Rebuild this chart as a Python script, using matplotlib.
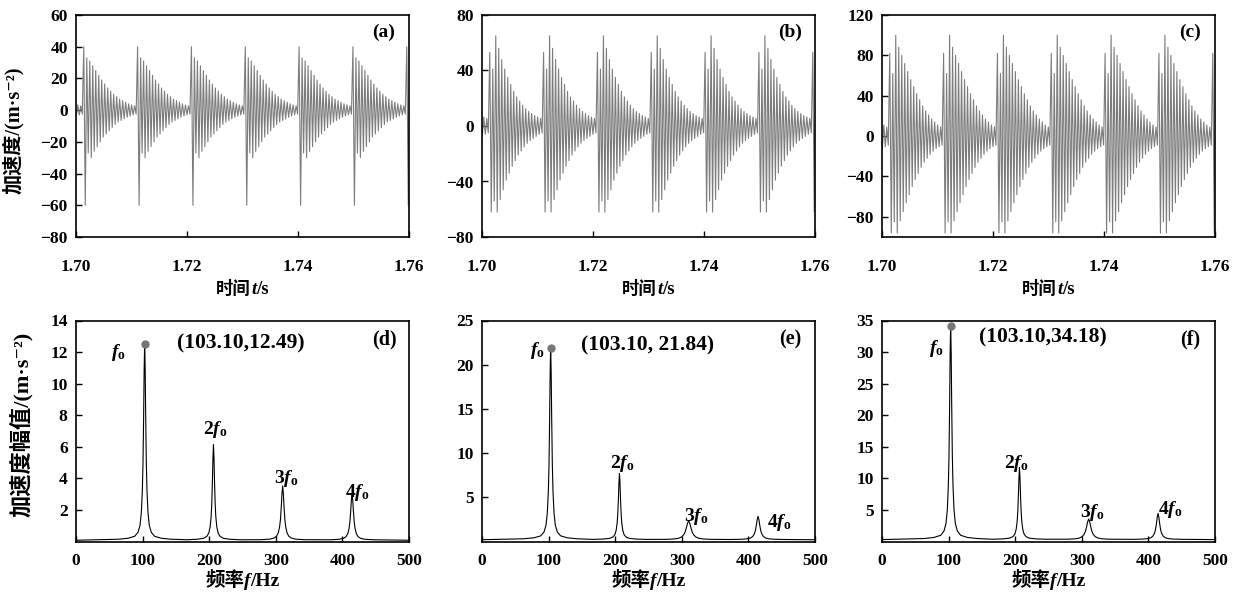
import numpy as np
import matplotlib
matplotlib.use("Agg")
import matplotlib.pyplot as plt
from matplotlib.font_manager import FontProperties
from matplotlib.offsetbox import TextArea, HPacker, AnchoredOffsetbox

plt.rcParams['mathtext.fontset'] = 'custom'
plt.rcParams['mathtext.rm'] = 'Liberation Serif:bold'
plt.rcParams['mathtext.it'] = 'Liberation Serif:italic:bold'
plt.rcParams['mathtext.bf'] = 'Liberation Serif:bold'
plt.rcParams['axes.unicode_minus'] = True

SERIF = ['Liberation Serif', 'DejaVu Serif', 'Noto Sans CJK SC']
CJK = 'Noto Sans CJK SC'

# ---------------- time-domain data ----------------
# impact onsets (s) and the alternating peak values of one ringing burst
onsets = [1.6917, 1.7014, 1.7111, 1.7208, 1.7305, 1.7402, 1.7499, 1.7596]
burst_period = 0.0097

pos_a = [40, 33, 31, 28, 25, 22, 19, 16.5, 14, 12, 10, 8.5, 7, 6, 5, 4, 3.3, 2.7]
neg_a = [-60, -27, -30, -26, -23, -20, -17, -15, -13, -11, -9, -7.5, -6.5, -5.5, -4.5, -3.7, -3, -2.5]

pos_b = [53, 41, 65, 56, 48, 41, 35, 30, 25, 21, 18, 15, 12.5, 10.5, 9, 7.5, 6.5, 5.5]
neg_b = [-62, -54, -62, -53, -46, -39, -34, -29, -25, -21, -18, -15, -12.5, -10.5, -9, -7.5, -6, -5]

pos_c = [82, 62, 100, 88, 80, 72, 64, 56, 49, 42, 36, 30, 25, 21, 17, 14, 11, 9]
neg_c = [-96, -85, -96, -84, -75, -66, -58, -50, -43, -37, -31, -26, -22, -18, -15, -12.5, -10.5, -9]

time_ticks = [1.70, 1.72, 1.74, 1.76]
yticks_a = [60, 40, 20, 0, -20, -40, -60, -80]
yticks_b = [80, 40, 0, -40, -80]
yticks_c = [120, 80, 40, 0, -40, -80]

# ---------------- spectrum data ----------------
harm_freq = [103.1, 206.4, 310.3, 414.5]
amp_d = [12.49, 6.05, 3.44, 2.95]
amp_e = [21.84, 7.5, 2.15, 2.65]
amp_f = [34.18, 11.4, 3.25, 4.15]
width_d = [1.0, 1.0, 1.3, 1.3]
width_e = [1.0, 1.0, 2.2, 1.6]
width_f = [1.0, 1.0, 2.0, 1.5]
floor_d, floor_e, floor_f = 0.08, 0.2, 0.3

# resonance line shape: offset from the peak (Hz) and relative amplitude
shape_off = [-50, -40, -25, -15, -10, -7, -5, -3.5, -2.5, -1.5, -0.8, 0,
             0.8, 1.5, 2.5, 3.5, 5, 7, 10, 15, 25, 40, 50]
shape_rel = [0.004, 0.005, 0.01, 0.02, 0.04, 0.075, 0.14, 0.25, 0.39, 0.64, 0.86, 1.0,
             0.86, 0.64, 0.39, 0.25, 0.14, 0.075, 0.04, 0.02, 0.01, 0.005, 0.004]

freq_ticks = [0, 100, 200, 300, 400, 500]
yticks_d = [2, 4, 6, 8, 10, 12, 14]
yticks_e = [5, 10, 15, 20, 25]
yticks_f = [5, 10, 15, 20, 25, 30, 35]

LINE_GREY = '#7c7c7c'

fig = plt.figure(figsize=(12.36, 5.99), dpi=100)
W, H = 1236, 599
lefts = [76, 482, 882]
aw = 333


def make_ax(left, top, bottom):
    return fig.add_axes([left / W, (H - bottom) / H, aw / W, (bottom - top) / H])


def style(ax, pad):
    for s in ax.spines.values():
        s.set_linewidth(1.2)
    ax.tick_params(direction='in', length=4.5, width=1.0, top=False, right=False,
                   labelsize=12.5)
    ax.tick_params(axis='x', pad=pad)
    ax.tick_params(axis='y', pad=6)
    for lab in ax.get_xticklabels() + ax.get_yticklabels():
        lab.set_fontfamily(SERIF)
        lab.set_fontweight('bold')


def mixed_xlabel(ax, parts, y):
    boxes = []
    for txt, fam, style_, size in parts:
        fp = FontProperties(family=fam, style=style_, weight='bold', size=size)
        boxes.append(TextArea(txt, textprops=dict(fontproperties=fp, color='black')))
    pack = HPacker(children=boxes, align='baseline', pad=0, sep=0)
    box = AnchoredOffsetbox(loc='upper center', child=pack, pad=0, borderpad=0,
                            frameon=False, bbox_to_anchor=(0.5, y),
                            bbox_transform=ax.transAxes)
    ax.add_artist(box)


# ---------------- top row: acceleration time histories ----------------
top_sets = [
    (pos_a, neg_a, (-80, 60), yticks_a, '(a)'),
    (pos_b, neg_b, (-80, 80), yticks_b, '(b)'),
    (pos_c, neg_c, (-100, 120), yticks_c, '(c)'),
]
for i, (pp, nn, ylim, yt, tag) in enumerate(top_sets):
    ax = make_ax(lefts[i], 15, 237)
    seq = np.empty(2 * len(pp))
    seq[0::2] = pp
    seq[1::2] = nn
    step = burst_period / len(seq)
    t = np.concatenate([o + np.arange(len(seq)) * step for o in onsets])
    y = np.tile(seq, len(onsets))
    ax.plot(t, y, color=LINE_GREY, lw=0.8)
    ax.set_xlim(1.70, 1.76)
    ax.set_ylim(*ylim)
    ax.set_xticks(time_ticks)
    ax.set_xticklabels([f'{v:.2f}' for v in time_ticks])
    ax.set_yticks(yt)
    ax.set_yticklabels([str(v).replace('-', '\u2212') for v in yt])
    style(ax, pad=16)
    ax.text(0.925, 0.92, tag, transform=ax.transAxes, ha='center', va='center',
            family=SERIF, weight='bold', size=14)
    mixed_xlabel(ax, [('时间', CJK, 'normal', 12.5), ('t', 'Liberation Serif', 'italic', 13.5),
                      ('/s', 'Liberation Serif', 'normal', 13.5)], -0.195)
    if i == 0:
        ax.set_ylabel('加速度/(m·s⁻²)', family=SERIF, weight='bold', size=14.5)
        ax.yaxis.set_label_coords(-0.155, 0.48)


# ---------------- bottom row: amplitude spectra ----------------
bot_sets = [
    (amp_d, width_d, floor_d, 14, yticks_d, '(d)', '(103.10,12.49)'),
    (amp_e, width_e, floor_e, 25, yticks_e, '(e)', '(103.10, 21.84)'),
    (amp_f, width_f, floor_f, 35, yticks_f, '(f)', '(103.10,34.18)'),
]
label_pos = [
    [(63, 12.0), (209, 7.1), (315, 4.0), (423, 3.1)],
    [(83, 21.6), (210, 8.8), (322, 2.8), (446, 2.2)],
    [(82, 30.6), (202, 12.4), (315, 4.6), (433, 5.1)],
]
note_pos = [(248, 12.55), (249, 22.2), (241, 32.3)]
harm_names = [r'$f_{\mathrm{o}}$', r'$2f_{\mathrm{o}}$', r'$3f_{\mathrm{o}}$', r'$4f_{\mathrm{o}}$']

off = np.array(shape_off)
rel = np.array(shape_rel)
for i, (amps, wids, floor, ytop, yt, tag, note) in enumerate(bot_sets):
    ax = make_ax(lefts[i], 320.5, 541.5)
    fs = [0.0]
    vals = [floor]
    for c, a, w in zip(harm_freq, amps, wids):
        o = off * w
        keep = np.abs(o) <= 48
        fs.extend(c + o[keep])
        vals.extend(floor + a * rel[keep])
    fs.append(500.0)
    vals.append(floor)
    ax.plot(fs, vals, color='black', lw=0.8)
    ax.plot(harm_freq[0], amps[0], 'o', color='#777777', ms=5, zorder=3)
    ax.set_xlim(0, 500)
    ax.set_ylim(0, ytop)
    ax.set_xticks(freq_ticks)
    ax.set_yticks(yt)
    style(ax, pad=8)
    ax.text(0.925, 0.915, tag, transform=ax.transAxes, ha='center', va='center',
            family=SERIF, weight='bold', size=14.5)
    ax.text(note_pos[i][0], note_pos[i][1], note, ha='center', va='center',
            family=SERIF, weight='bold', size=15.5)
    for (x, y), nm in zip(label_pos[i], harm_names):
        ax.text(x, y, nm, ha='center', va='center', size=14)
    mixed_xlabel(ax, [('频率', CJK, 'normal', 14), ('f', 'Liberation Serif', 'italic', 14),
                      ('/Hz', 'Liberation Serif', 'normal', 14)], -0.135)
    if i == 0:
        ax.set_ylabel('加速度幅值/(m·s⁻²)', family=SERIF, weight='bold', size=16)
        ax.yaxis.set_label_coords(-0.13, 0.53)

fig.savefig('out.png', dpi=100)
